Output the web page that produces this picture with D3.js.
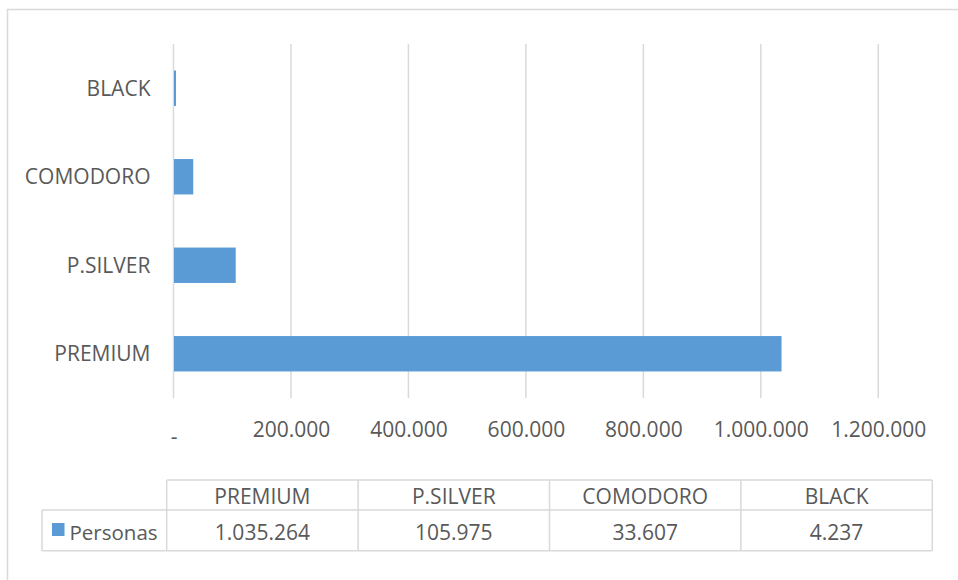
<!DOCTYPE html>
<html>
<head>
<meta charset="utf-8">
<script src="https://cdn.jsdelivr.net/npm/d3@7"></script>
<style>
  html, body { margin: 0; padding: 0; background: #fff; }
  svg { display: block; }
  text { font-family: "Open Sans", "DejaVu Sans", sans-serif; fill: #595959; }
</style>
</head>
<body>
<svg id="chart" width="958" height="580"></svg>
<script>
// Cardholders by card tier
const categories = ["PREMIUM", "P.SILVER", "COMODORO", "BLACK"];
const seriesName = "Personas";
const personas = [1035264, 105975, 33607, 4237];
const tickValues = [0, 200000, 400000, 600000, 800000, 1000000, 1200000];
const tickLabels = ["-", "200.000", "400.000", "600.000", "800.000", "1.000.000", "1.200.000"];

const barColor = "#5b9bd5";
const gridColor = "#d9d9d9";
const fontSize = 21;

const svg = d3.select("#chart");
const locale = d3.formatLocale({ decimal: ",", thousands: ".", grouping: [3], currency: ["$", ""] });
const fmt = locale.format(",d");

// chart frame
svg.append("rect")
  .attr("x", 7.5).attr("y", 9.5)
  .attr("width", 1000).attr("height", 1000)
  .attr("fill", "none").attr("stroke", gridColor).attr("stroke-width", 1.5);

const plot = { left: 173.5, right: 878.3, top: 44, bottom: 398 };

const x = d3.scaleLinear().domain([0, 1200000]).range([plot.left, plot.right]);
// BLACK on top, PREMIUM at the bottom
const y = d3.scaleBand()
  .domain(categories.slice().reverse())
  .range([plot.top, plot.bottom])
  .paddingInner(0.6).paddingOuter(0.3);

// vertical gridlines
svg.append("g").selectAll("line")
  .data(tickValues)
  .join("line")
  .attr("x1", d => x(d)).attr("x2", d => x(d))
  .attr("y1", plot.top).attr("y2", plot.bottom)
  .attr("stroke", gridColor).attr("stroke-width", 1.5);

// bars
const rows = categories.map((c, i) => ({ cat: c, value: personas[i] }));
svg.append("g").selectAll("rect")
  .data(rows)
  .join("rect")
  .attr("x", x(0) + 0.5)
  .attr("y", d => y(d.cat))
  .attr("width", d => Math.max(1.5, x(d.value) - x(0) - 0.5))
  .attr("height", y.bandwidth())
  .attr("fill", barColor);

// category axis labels
svg.append("g").selectAll("text")
  .data(categories)
  .join("text")
  .attr("x", 150.5)
  .attr("y", d => y(d) + y.bandwidth() / 2)
  .attr("dy", "0.36em")
  .attr("text-anchor", "end")
  .style("font-size", fontSize + "px")
  .text(d => d);

// value axis labels
const xAxis = d3.axisBottom(x)
  .tickValues(tickValues)
  .tickSize(0)
  .tickFormat((d, i) => tickLabels[i]);
const gx = svg.append("g")
  .attr("transform", `translate(0, ${plot.bottom})`)
  .call(xAxis);
gx.select(".domain").remove();
gx.selectAll("text")
  .attr("y", 38.5).attr("dy", 0)
  .style("font-size", fontSize + "px")
  .style("fill", "#595959")
  .style("font-family", '"Open Sans", sans-serif')
  .attr("transform", (d, i) => i === 0 ? "translate(0,7)" : null);

// data table
const table = { left: 42, first: 166.7, right: 932.3, top: 480, mid: 510, bottom: 550.7 };
const col = d3.scaleBand().domain(categories).range([table.first, table.right]);
const tg = svg.append("g").attr("stroke", gridColor).attr("stroke-width", 1.5);

tg.append("line").attr("x1", table.first).attr("x2", table.right).attr("y1", table.top).attr("y2", table.top);
tg.append("line").attr("x1", table.left).attr("x2", table.right).attr("y1", table.mid).attr("y2", table.mid);
tg.append("line").attr("x1", table.left).attr("x2", table.right).attr("y1", table.bottom).attr("y2", table.bottom);
tg.append("line").attr("x1", table.left).attr("x2", table.left).attr("y1", table.mid).attr("y2", table.bottom);
tg.selectAll("line.col")
  .data(categories)
  .join("line")
  .attr("class", "col")
  .attr("x1", d => col(d) + col.bandwidth()).attr("x2", d => col(d) + col.bandwidth())
  .attr("y1", table.top).attr("y2", table.bottom);
tg.append("line").attr("x1", table.first).attr("x2", table.first).attr("y1", table.top).attr("y2", table.bottom);

// header row
svg.append("g").selectAll("text")
  .data(categories)
  .join("text")
  .attr("x", d => col(d) + col.bandwidth() / 2)
  .attr("y", 503.5)
  .attr("text-anchor", "middle")
  .style("font-size", fontSize + "px")
  .text(d => d);

// value row
svg.append("g").selectAll("text")
  .data(rows)
  .join("text")
  .attr("x", d => col(d.cat) + col.bandwidth() / 2)
  .attr("y", 539.5)
  .attr("text-anchor", "middle")
  .style("font-size", fontSize + "px")
  .text(d => fmt(d.value));

// legend key + series name
svg.append("rect")
  .attr("x", 52).attr("y", 523)
  .attr("width", 12.5).attr("height", 13)
  .attr("fill", barColor);
svg.append("text")
  .attr("x", 69.5).attr("y", 539.5)
  .style("font-size", "20.5px")
  .text(seriesName);
</script>
</body>
</html>
